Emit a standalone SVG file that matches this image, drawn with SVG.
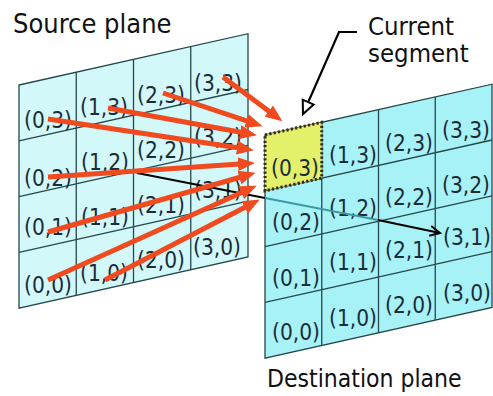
<svg xmlns="http://www.w3.org/2000/svg" width="493" height="396" viewBox="0 0 493 396">
<defs>
<style>
.lbl{font-family:"DejaVu Sans Condensed","DejaVu Sans",sans-serif;font-stretch:condensed;font-size:22.5px;fill:#1c2c38;text-anchor:middle}
.title{font-family:"DejaVu Sans Condensed","DejaVu Sans",sans-serif;font-stretch:condensed;fill:#111}
.grid{stroke:#26484c;stroke-width:1.3;fill:none}
.red{stroke:#f04a1e;stroke-width:5;fill:none;marker-end:url(#rh)}
</style>
<marker id="rh" markerUnits="userSpaceOnUse" markerWidth="18" markerHeight="16" refX="9" refY="7" orient="auto" viewBox="0 0 18 14">
<path d="M0,0 L17,7 L0,14 z" fill="#f04a1e"/>
</marker>
<marker id="vh" markerUnits="userSpaceOnUse" markerWidth="14" markerHeight="14" refX="11" refY="6" orient="auto" viewBox="0 0 14 12">
<path d="M1,1 L11,6 L1,11" fill="none" stroke="#000" stroke-width="2"/>
</marker>
<marker id="oh" markerUnits="userSpaceOnUse" markerWidth="18" markerHeight="16" refX="14" refY="7" orient="auto" viewBox="0 0 18 14">
<path d="M1,1 L14,7 L1,13 z" fill="#fff" stroke="#000" stroke-width="2"/>
</marker>
</defs>
<rect width="493" height="396" fill="#fff"/>

<g id="source-plane">
<path d="M19,85 L248,33.7 L248,256.9 L19,308.2 z" fill="#d2f8fa" stroke="#26484c" stroke-width="1.3"/>
<path class="grid" d="M19,140.8 L248,89.5 M19,196.6 L248,145.3 M19,252.4 L248,201.1 M76.25,72.2 L76.25,295.4 M133.5,59.4 L133.5,282.6 M190.75,46.5 L190.75,269.7"/>
<text class="lbl" x="48" y="127.5">(0,3)</text>
<text class="lbl" x="104" y="114.5">(1,3)</text>
<text class="lbl" x="161" y="102.5">(2,3)</text>
<text class="lbl" x="218" y="90.5">(3,3)</text>
<text class="lbl" x="48" y="185.5">(0,2)</text>
<text class="lbl" x="105" y="169.5">(1,2)</text>
<text class="lbl" x="161" y="157.5">(2,2)</text>
<text class="lbl" x="218" y="144.5">(3,2)</text>
<text class="lbl" x="48" y="234.5">(0,1)</text>
<text class="lbl" x="105" y="224.5">(1,1)</text>
<text class="lbl" x="161" y="212.5">(2,1)</text>
<text class="lbl" x="218" y="197.5">(3,1)</text>
<text class="lbl" x="48" y="292.5">(0,0)</text>
<text class="lbl" x="104" y="280.5">(1,0)</text>
<text class="lbl" x="161" y="267.5">(2,0)</text>
<text class="lbl" x="217" y="254.5">(3,0)</text>
</g>

<g id="destination-plane">
<path d="M265,135 L492,84.2 L492,307.4 L265,358.2 z" fill="#a6f2f6" stroke="#26484c" stroke-width="1.3"/>
<path class="grid" d="M265,190.8 L492,140 M265,246.6 L492,195.8 M265,302.4 L492,251.6 M321.75,122.3 L321.75,345.5 M378.5,109.6 L378.5,332.8 M435.25,96.9 L435.25,320.1"/>
<text class="lbl" x="353" y="162.5">(1,3)</text>
<text class="lbl" x="409" y="150.5">(2,3)</text>
<text class="lbl" x="466" y="137.5">(3,3)</text>
<text class="lbl" x="296" y="229.5">(0,2)</text>
<text class="lbl" x="353" y="215.5">(1,2)</text>
<text class="lbl" x="409" y="204.5">(2,2)</text>
<text class="lbl" x="466" y="192.5">(3,2)</text>
<text class="lbl" x="296" y="285.5">(0,1)</text>
<text class="lbl" x="353" y="269.5">(1,1)</text>
<text class="lbl" x="409" y="257.5">(2,1)</text>
<text class="lbl" x="467" y="244.5">(3,1)</text>
<text class="lbl" x="296" y="339.5">(0,0)</text>
<text class="lbl" x="353" y="325.5">(1,0)</text>
<text class="lbl" x="409" y="312.5">(2,0)</text>
<text class="lbl" x="467" y="300.5">(3,0)</text>
</g>

<g id="current-segment">
<path d="M265,135 L321.75,122.3 L321.75,178.1 L265,190.8 z" fill="#e2f06a" stroke="#3a2a10" stroke-width="3" stroke-dasharray="2.2 2.2"/>
<text class="lbl" x="295" y="175.5">(0,3)</text>
</g>

<g id="connectors">
<path d="M137,173 L265,198" stroke="#000" stroke-width="2" fill="none"/>
<path d="M265,198 L378,220" stroke="#3a9ca2" stroke-width="2" fill="none"/>
<path d="M378,220 L440,233" stroke="#000" stroke-width="2" fill="none" marker-end="url(#vh)"/>
<path class="red" d="M223,77 L276,116.5"/>
<path class="red" d="M163,93 L255,123.7"/>
<path class="red" d="M108,108 L249,133.7"/>
<path class="red" d="M48,119 L246,149"/>
<path class="red" d="M48,177 L247,163.5"/>
<path class="red" d="M48,232 L248,175"/>
<path class="red" d="M48,280 L249.5,189"/>
<path class="red" d="M105,280 L252.7,203.3"/>
<path d="M357,32 L339,32 L303,114" stroke="#000" stroke-width="2.2" fill="none" marker-end="url(#oh)"/>
</g>

<g id="labels">
<text class="title" x="13" y="33" font-size="27">Source plane</text>
<text class="title" x="368" y="35" font-size="25.5">Current</text>
<text class="title" x="368" y="62" font-size="25.5">segment</text>
<text class="title" x="267" y="387" font-size="24.5">Destination plane</text>
</g>
</svg>
